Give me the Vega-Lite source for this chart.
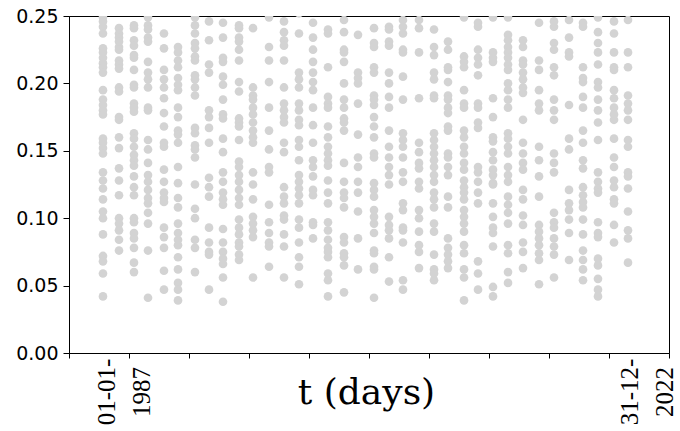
{
"$schema": "https://vega.github.io/schema/vega-lite/v6.json",
"autosize": {"type": "none"},
"padding": {"left": 69, "top": 16, "right": 11, "bottom": 78},
"width": 600,
"height": 337,
"background": "white",
"config": {"view": {"stroke": "black", "strokeWidth": 1}},
"title": {"text": "p\u00a0\u00a0(t) p", "font": "DejaVu Serif", "fontSize": 36, "fontWeight": "normal", "color": "black", "anchor": "start", "dx": 181, "baseline": "alphabetic", "offset": 18},
"layer": [
{
"data": {"values": [
{"t":-554,"p":0.249},{"t":-554,"p":0.246},{"t":-554,"p":0.242},{"t":-554,"p":0.237},{"t":-554,"p":0.226},{"t":-554,"p":0.223},{"t":-554,"p":0.219},{"t":-554,"p":0.215},{"t":-554,"p":0.212},{"t":-554,"p":0.208},{"t":-554,"p":0.195},{"t":-554,"p":0.188},{"t":-554,"p":0.184},{"t":-554,"p":0.180},{"t":-554,"p":0.177},{"t":-554,"p":0.159},{"t":-554,"p":0.156},{"t":-554,"p":0.152},{"t":-554,"p":0.148},{"t":-554,"p":0.134},{"t":-554,"p":0.128},{"t":-554,"p":0.122},{"t":-554,"p":0.114},{"t":-554,"p":0.105},{"t":-554,"p":0.100},{"t":-554,"p":0.088},{"t":-554,"p":0.072},{"t":-554,"p":0.068},{"t":-554,"p":0.059},{"t":-554,"p":0.042},
{"t":-151,"p":0.241},{"t":-151,"p":0.237},{"t":-151,"p":0.234},{"t":-151,"p":0.231},{"t":-151,"p":0.227},{"t":-151,"p":0.225},{"t":-151,"p":0.217},{"t":-151,"p":0.214},{"t":-151,"p":0.211},{"t":-151,"p":0.197},{"t":-151,"p":0.194},{"t":-151,"p":0.175},{"t":-151,"p":0.173},{"t":-151,"p":0.160},{"t":-151,"p":0.152},{"t":-151,"p":0.137},{"t":-151,"p":0.128},{"t":-151,"p":0.117},{"t":-151,"p":0.100},{"t":-151,"p":0.096},{"t":-151,"p":0.091},{"t":-151,"p":0.084},{"t":-151,"p":0.076},
{"t":226,"p":0.243},{"t":226,"p":0.241},{"t":226,"p":0.232},{"t":226,"p":0.228},{"t":226,"p":0.221},{"t":226,"p":0.219},{"t":226,"p":0.210},{"t":226,"p":0.199},{"t":226,"p":0.197},{"t":226,"p":0.185},{"t":226,"p":0.182},{"t":226,"p":0.179},{"t":226,"p":0.163},{"t":226,"p":0.159},{"t":226,"p":0.153},{"t":226,"p":0.147},{"t":226,"p":0.143},{"t":226,"p":0.139},{"t":226,"p":0.131},{"t":226,"p":0.123},{"t":226,"p":0.117},{"t":226,"p":0.100},{"t":226,"p":0.097},{"t":226,"p":0.089},{"t":226,"p":0.085},{"t":226,"p":0.078},{"t":226,"p":0.067},{"t":226,"p":0.060},
{"t":579,"p":0.249},{"t":579,"p":0.243},{"t":579,"p":0.240},{"t":579,"p":0.234},{"t":579,"p":0.231},{"t":579,"p":0.216},{"t":579,"p":0.208},{"t":579,"p":0.203},{"t":579,"p":0.197},{"t":579,"p":0.182},{"t":579,"p":0.180},{"t":579,"p":0.158},{"t":579,"p":0.151},{"t":579,"p":0.141},{"t":579,"p":0.132},{"t":579,"p":0.127},{"t":579,"p":0.121},{"t":579,"p":0.115},{"t":579,"p":0.111},{"t":579,"p":0.104},{"t":579,"p":0.096},{"t":579,"p":0.076},{"t":579,"p":0.041},
{"t":981,"p":0.237},{"t":981,"p":0.226},{"t":981,"p":0.210},{"t":981,"p":0.203},{"t":981,"p":0.197},{"t":981,"p":0.189},{"t":981,"p":0.178},{"t":981,"p":0.168},{"t":981,"p":0.156},{"t":981,"p":0.153},{"t":981,"p":0.136},{"t":981,"p":0.127},{"t":981,"p":0.119},{"t":981,"p":0.115},{"t":981,"p":0.112},{"t":981,"p":0.093},{"t":981,"p":0.086},{"t":981,"p":0.078},{"t":981,"p":0.061},{"t":981,"p":0.047},
{"t":1334,"p":0.227},{"t":1334,"p":0.223},{"t":1334,"p":0.217},{"t":1334,"p":0.212},{"t":1334,"p":0.204},{"t":1334,"p":0.199},{"t":1334,"p":0.195},{"t":1334,"p":0.182},{"t":1334,"p":0.175},{"t":1334,"p":0.165},{"t":1334,"p":0.162},{"t":1334,"p":0.156},{"t":1334,"p":0.138},{"t":1334,"p":0.126},{"t":1334,"p":0.115},{"t":1334,"p":0.108},{"t":1334,"p":0.096},{"t":1334,"p":0.089},{"t":1334,"p":0.084},{"t":1334,"p":0.080},{"t":1334,"p":0.071},{"t":1334,"p":0.062},{"t":1334,"p":0.052},{"t":1334,"p":0.047},{"t":1334,"p":0.039},
{"t":1761,"p":0.249},{"t":1761,"p":0.243},{"t":1761,"p":0.237},{"t":1761,"p":0.230},{"t":1761,"p":0.226},{"t":1761,"p":0.220},{"t":1761,"p":0.217},{"t":1761,"p":0.206},{"t":1761,"p":0.203},{"t":1761,"p":0.197},{"t":1761,"p":0.191},{"t":1761,"p":0.167},{"t":1761,"p":0.163},{"t":1761,"p":0.154},{"t":1761,"p":0.151},{"t":1761,"p":0.145},{"t":1761,"p":0.125},{"t":1761,"p":0.107},{"t":1761,"p":0.100},{"t":1761,"p":0.084},{"t":1761,"p":0.078},{"t":1761,"p":0.060},
{"t":2114,"p":0.246},{"t":2114,"p":0.232},{"t":2114,"p":0.214},{"t":2114,"p":0.208},{"t":2114,"p":0.180},{"t":2114,"p":0.175},{"t":2114,"p":0.167},{"t":2114,"p":0.156},{"t":2114,"p":0.130},{"t":2114,"p":0.123},{"t":2114,"p":0.116},{"t":2114,"p":0.093},{"t":2114,"p":0.082},{"t":2114,"p":0.075},{"t":2114,"p":0.073},{"t":2114,"p":0.047},
{"t":2466,"p":0.245},{"t":2466,"p":0.234},{"t":2466,"p":0.219},{"t":2466,"p":0.216},{"t":2466,"p":0.205},{"t":2466,"p":0.199},{"t":2466,"p":0.188},{"t":2466,"p":0.177},{"t":2466,"p":0.174},{"t":2466,"p":0.159},{"t":2466,"p":0.149},{"t":2466,"p":0.134},{"t":2466,"p":0.127},{"t":2466,"p":0.119},{"t":2466,"p":0.114},{"t":2466,"p":0.110},{"t":2466,"p":0.092},{"t":2466,"p":0.082},{"t":2466,"p":0.075},{"t":2466,"p":0.070},{"t":2466,"p":0.066},{"t":2466,"p":0.056},{"t":2466,"p":0.038},
{"t":2869,"p":0.243},{"t":2869,"p":0.241},{"t":2869,"p":0.234},{"t":2869,"p":0.231},{"t":2869,"p":0.225},{"t":2869,"p":0.217},{"t":2869,"p":0.201},{"t":2869,"p":0.194},{"t":2869,"p":0.174},{"t":2869,"p":0.171},{"t":2869,"p":0.168},{"t":2869,"p":0.158},{"t":2869,"p":0.142},{"t":2869,"p":0.138},{"t":2869,"p":0.132},{"t":2869,"p":0.127},{"t":2869,"p":0.121},{"t":2869,"p":0.115},{"t":2869,"p":0.110},{"t":2869,"p":0.099},{"t":2869,"p":0.093},{"t":2869,"p":0.088},{"t":2869,"p":0.082},{"t":2869,"p":0.079},{"t":2869,"p":0.073},{"t":2869,"p":0.069},
{"t":3221,"p":0.241},{"t":3221,"p":0.197},{"t":3221,"p":0.191},{"t":3221,"p":0.188},{"t":3221,"p":0.182},{"t":3221,"p":0.177},{"t":3221,"p":0.171},{"t":3221,"p":0.165},{"t":3221,"p":0.160},{"t":3221,"p":0.156},{"t":3221,"p":0.134},{"t":3221,"p":0.125},{"t":3221,"p":0.114},{"t":3221,"p":0.101},{"t":3221,"p":0.096},{"t":3221,"p":0.091},{"t":3221,"p":0.086},{"t":3221,"p":0.056},
{"t":3624,"p":0.249},{"t":3624,"p":0.227},{"t":3624,"p":0.217},{"t":3624,"p":0.201},{"t":3624,"p":0.182},{"t":3624,"p":0.165},{"t":3624,"p":0.151},{"t":3624,"p":0.138},{"t":3624,"p":0.134},{"t":3624,"p":0.110},{"t":3624,"p":0.097},{"t":3624,"p":0.089},{"t":3624,"p":0.082},{"t":3624,"p":0.079},{"t":3624,"p":0.064},
{"t":4001,"p":0.246},{"t":4001,"p":0.238},{"t":4001,"p":0.232},{"t":4001,"p":0.228},{"t":4001,"p":0.217},{"t":4001,"p":0.197},{"t":4001,"p":0.185},{"t":4001,"p":0.180},{"t":4001,"p":0.175},{"t":4001,"p":0.171},{"t":4001,"p":0.156},{"t":4001,"p":0.149},{"t":4001,"p":0.123},{"t":4001,"p":0.116},{"t":4001,"p":0.111},{"t":4001,"p":0.102},{"t":4001,"p":0.099},{"t":4001,"p":0.088},{"t":4001,"p":0.079},{"t":4001,"p":0.056},
{"t":4378,"p":0.252},{"t":4378,"p":0.237},{"t":4378,"p":0.208},{"t":4378,"p":0.203},{"t":4378,"p":0.197},{"t":4378,"p":0.185},{"t":4378,"p":0.180},{"t":4378,"p":0.173},{"t":4378,"p":0.169},{"t":4378,"p":0.158},{"t":4378,"p":0.153},{"t":4378,"p":0.143},{"t":4378,"p":0.132},{"t":4378,"p":0.127},{"t":4378,"p":0.122},{"t":4378,"p":0.117},{"t":4378,"p":0.111},{"t":4378,"p":0.099},{"t":4378,"p":0.093},{"t":4378,"p":0.082},{"t":4378,"p":0.071},{"t":4378,"p":0.064},{"t":4378,"p":0.051},
{"t":4731,"p":0.245},{"t":4731,"p":0.234},{"t":4731,"p":0.225},{"t":4731,"p":0.216},{"t":4731,"p":0.208},{"t":4731,"p":0.201},{"t":4731,"p":0.195},{"t":4731,"p":0.182},{"t":4731,"p":0.169},{"t":4731,"p":0.156},{"t":4731,"p":0.143},{"t":4731,"p":0.138},{"t":4731,"p":0.131},{"t":4731,"p":0.121},{"t":4731,"p":0.117},{"t":4731,"p":0.097},{"t":4731,"p":0.095},{"t":4731,"p":0.085},
{"t":5108,"p":0.240},{"t":5108,"p":0.237},{"t":5108,"p":0.212},{"t":5108,"p":0.190},{"t":5108,"p":0.185},{"t":5108,"p":0.182},{"t":5108,"p":0.168},{"t":5108,"p":0.160},{"t":5108,"p":0.153},{"t":5108,"p":0.148},{"t":5108,"p":0.143},{"t":5108,"p":0.139},{"t":5108,"p":0.128},{"t":5108,"p":0.119},{"t":5108,"p":0.111},{"t":5108,"p":0.097},{"t":5108,"p":0.091},{"t":5108,"p":0.084},{"t":5108,"p":0.078},{"t":5108,"p":0.075},{"t":5108,"p":0.071},{"t":5108,"p":0.059},{"t":5108,"p":0.054},{"t":5108,"p":0.042},
{"t":5511,"p":0.247},{"t":5511,"p":0.238},{"t":5511,"p":0.225},{"t":5511,"p":0.223},{"t":5511,"p":0.216},{"t":5511,"p":0.200},{"t":5511,"p":0.188},{"t":5511,"p":0.182},{"t":5511,"p":0.174},{"t":5511,"p":0.171},{"t":5511,"p":0.165},{"t":5511,"p":0.141},{"t":5511,"p":0.127},{"t":5511,"p":0.119},{"t":5511,"p":0.115},{"t":5511,"p":0.108},{"t":5511,"p":0.086},{"t":5511,"p":0.082},{"t":5511,"p":0.074},{"t":5511,"p":0.071},{"t":5511,"p":0.065},{"t":5511,"p":0.045},
{"t":5863,"p":0.236},{"t":5863,"p":0.208},{"t":5863,"p":0.204},{"t":5863,"p":0.200},{"t":5863,"p":0.185},{"t":5863,"p":0.162},{"t":5863,"p":0.145},{"t":5863,"p":0.138},{"t":5863,"p":0.127},{"t":5863,"p":0.119},{"t":5863,"p":0.105},{"t":5863,"p":0.085},{"t":5863,"p":0.062},
{"t":6266,"p":0.241},{"t":6266,"p":0.230},{"t":6266,"p":0.227},{"t":6266,"p":0.212},{"t":6266,"p":0.208},{"t":6266,"p":0.191},{"t":6266,"p":0.188},{"t":6266,"p":0.184},{"t":6266,"p":0.175},{"t":6266,"p":0.168},{"t":6266,"p":0.160},{"t":6266,"p":0.148},{"t":6266,"p":0.145},{"t":6266,"p":0.126},{"t":6266,"p":0.121},{"t":6266,"p":0.116},{"t":6266,"p":0.106},{"t":6266,"p":0.101},{"t":6266,"p":0.096},{"t":6266,"p":0.089},{"t":6266,"p":0.076},{"t":6266,"p":0.074},{"t":6266,"p":0.064},{"t":6266,"p":0.062},{"t":6266,"p":0.041},
{"t":6643,"p":0.242},{"t":6643,"p":0.240},{"t":6643,"p":0.231},{"t":6643,"p":0.228},{"t":6643,"p":0.208},{"t":6643,"p":0.200},{"t":6643,"p":0.190},{"t":6643,"p":0.182},{"t":6643,"p":0.165},{"t":6643,"p":0.153},{"t":6643,"p":0.145},{"t":6643,"p":0.138},{"t":6643,"p":0.132},{"t":6643,"p":0.125},{"t":6643,"p":0.101},{"t":6643,"p":0.095},{"t":6643,"p":0.091},{"t":6643,"p":0.085},{"t":6643,"p":0.071},{"t":6643,"p":0.053},
{"t":6995,"p":0.247},{"t":6995,"p":0.242},{"t":6995,"p":0.237},{"t":6995,"p":0.225},{"t":6995,"p":0.223},{"t":6995,"p":0.205},{"t":6995,"p":0.188},{"t":6995,"p":0.163},{"t":6995,"p":0.158},{"t":6995,"p":0.153},{"t":6995,"p":0.145},{"t":6995,"p":0.134},{"t":6995,"p":0.127},{"t":6995,"p":0.111},{"t":6995,"p":0.106},{"t":6995,"p":0.093},{"t":6995,"p":0.091},{"t":6995,"p":0.082},{"t":6995,"p":0.054},{"t":6995,"p":0.047},
{"t":7398,"p":0.247},{"t":7398,"p":0.241},{"t":7398,"p":0.223},{"t":7398,"p":0.189},{"t":7398,"p":0.156},{"t":7398,"p":0.149},{"t":7398,"p":0.141},{"t":7398,"p":0.137},{"t":7398,"p":0.127},{"t":7398,"p":0.122},{"t":7398,"p":0.106},{"t":7398,"p":0.100},{"t":7398,"p":0.090},{"t":7398,"p":0.080},{"t":7398,"p":0.075},{"t":7398,"p":0.063},
{"t":7776,"p":0.240},{"t":7776,"p":0.227},{"t":7776,"p":0.221},{"t":7776,"p":0.208},{"t":7776,"p":0.203},{"t":7776,"p":0.191},{"t":7776,"p":0.189},{"t":7776,"p":0.163},{"t":7776,"p":0.158},{"t":7776,"p":0.153},{"t":7776,"p":0.148},{"t":7776,"p":0.143},{"t":7776,"p":0.138},{"t":7776,"p":0.132},{"t":7776,"p":0.127},{"t":7776,"p":0.119},{"t":7776,"p":0.114},{"t":7776,"p":0.108},{"t":7776,"p":0.096},{"t":7776,"p":0.090},{"t":7776,"p":0.073},{"t":7776,"p":0.062},{"t":7776,"p":0.059},{"t":7776,"p":0.054},
{"t":8128,"p":0.231},{"t":8128,"p":0.225},{"t":8128,"p":0.212},{"t":8128,"p":0.210},{"t":8128,"p":0.201},{"t":8128,"p":0.191},{"t":8128,"p":0.188},{"t":8128,"p":0.182},{"t":8128,"p":0.178},{"t":8128,"p":0.168},{"t":8128,"p":0.165},{"t":8128,"p":0.148},{"t":8128,"p":0.145},{"t":8128,"p":0.138},{"t":8128,"p":0.132},{"t":8128,"p":0.116},{"t":8128,"p":0.108},{"t":8128,"p":0.085},{"t":8128,"p":0.078},{"t":8128,"p":0.073},{"t":8128,"p":0.068},{"t":8128,"p":0.063},
{"t":8531,"p":0.249},{"t":8531,"p":0.220},{"t":8531,"p":0.216},{"t":8531,"p":0.212},{"t":8531,"p":0.195},{"t":8531,"p":0.185},{"t":8531,"p":0.182},{"t":8531,"p":0.165},{"t":8531,"p":0.160},{"t":8531,"p":0.153},{"t":8531,"p":0.148},{"t":8531,"p":0.141},{"t":8531,"p":0.136},{"t":8531,"p":0.128},{"t":8531,"p":0.123},{"t":8531,"p":0.119},{"t":8531,"p":0.114},{"t":8531,"p":0.106},{"t":8531,"p":0.101},{"t":8531,"p":0.096},{"t":8531,"p":0.090},{"t":8531,"p":0.080},{"t":8531,"p":0.074},{"t":8531,"p":0.062},{"t":8531,"p":0.056},{"t":8531,"p":0.039},
{"t":8883,"p":0.245},{"t":8883,"p":0.242},{"t":8883,"p":0.225},{"t":8883,"p":0.219},{"t":8883,"p":0.214},{"t":8883,"p":0.206},{"t":8883,"p":0.185},{"t":8883,"p":0.182},{"t":8883,"p":0.171},{"t":8883,"p":0.167},{"t":8883,"p":0.138},{"t":8883,"p":0.134},{"t":8883,"p":0.127},{"t":8883,"p":0.119},{"t":8883,"p":0.111},{"t":8883,"p":0.068},{"t":8883,"p":0.059},{"t":8883,"p":0.047},
{"t":9260,"p":0.249},{"t":9260,"p":0.223},{"t":9260,"p":0.219},{"t":9260,"p":0.216},{"t":9260,"p":0.189},{"t":9260,"p":0.175},{"t":9260,"p":0.160},{"t":9260,"p":0.157},{"t":9260,"p":0.149},{"t":9260,"p":0.143},{"t":9260,"p":0.136},{"t":9260,"p":0.132},{"t":9260,"p":0.126},{"t":9260,"p":0.125},{"t":9260,"p":0.111},{"t":9260,"p":0.101},{"t":9260,"p":0.093},{"t":9260,"p":0.089},{"t":9260,"p":0.079},{"t":9260,"p":0.049},{"t":9260,"p":0.042},
{"t":9638,"p":0.249},{"t":9638,"p":0.236},{"t":9638,"p":0.232},{"t":9638,"p":0.227},{"t":9638,"p":0.223},{"t":9638,"p":0.219},{"t":9638,"p":0.214},{"t":9638,"p":0.210},{"t":9638,"p":0.200},{"t":9638,"p":0.195},{"t":9638,"p":0.188},{"t":9638,"p":0.182},{"t":9638,"p":0.163},{"t":9638,"p":0.159},{"t":9638,"p":0.153},{"t":9638,"p":0.148},{"t":9638,"p":0.138},{"t":9638,"p":0.132},{"t":9638,"p":0.127},{"t":9638,"p":0.116},{"t":9638,"p":0.110},{"t":9638,"p":0.104},{"t":9638,"p":0.096},{"t":9638,"p":0.080},{"t":9638,"p":0.074},{"t":9638,"p":0.060},{"t":9638,"p":0.052},
{"t":10015,"p":0.232},{"t":10015,"p":0.227},{"t":10015,"p":0.217},{"t":10015,"p":0.214},{"t":10015,"p":0.208},{"t":10015,"p":0.203},{"t":10015,"p":0.197},{"t":10015,"p":0.193},{"t":10015,"p":0.173},{"t":10015,"p":0.156},{"t":10015,"p":0.148},{"t":10015,"p":0.141},{"t":10015,"p":0.136},{"t":10015,"p":0.121},{"t":10015,"p":0.114},{"t":10015,"p":0.102},{"t":10015,"p":0.095},{"t":10015,"p":0.082},{"t":10015,"p":0.075},{"t":10015,"p":0.063},
{"t":10418,"p":0.245},{"t":10418,"p":0.217},{"t":10418,"p":0.210},{"t":10418,"p":0.195},{"t":10418,"p":0.185},{"t":10418,"p":0.180},{"t":10418,"p":0.153},{"t":10418,"p":0.143},{"t":10418,"p":0.131},{"t":10418,"p":0.116},{"t":10418,"p":0.095},{"t":10418,"p":0.090},{"t":10418,"p":0.085},{"t":10418,"p":0.080},{"t":10418,"p":0.074},{"t":10418,"p":0.069},{"t":10418,"p":0.051},
{"t":10795,"p":0.246},{"t":10795,"p":0.242},{"t":10795,"p":0.230},{"t":10795,"p":0.225},{"t":10795,"p":0.212},{"t":10795,"p":0.206},{"t":10795,"p":0.188},{"t":10795,"p":0.180},{"t":10795,"p":0.173},{"t":10795,"p":0.148},{"t":10795,"p":0.141},{"t":10795,"p":0.134},{"t":10795,"p":0.104},{"t":10795,"p":0.097},{"t":10795,"p":0.093},{"t":10795,"p":0.085},{"t":10795,"p":0.079},{"t":10795,"p":0.073},{"t":10795,"p":0.056},
{"t":11173,"p":0.247},{"t":11173,"p":0.234},{"t":11173,"p":0.223},{"t":11173,"p":0.220},{"t":11173,"p":0.184},{"t":11173,"p":0.159},{"t":11173,"p":0.151},{"t":11173,"p":0.121},{"t":11173,"p":0.111},{"t":11173,"p":0.106},{"t":11173,"p":0.099},{"t":11173,"p":0.089},{"t":11173,"p":0.069},
{"t":11525,"p":0.245},{"t":11525,"p":0.242},{"t":11525,"p":0.212},{"t":11525,"p":0.204},{"t":11525,"p":0.201},{"t":11525,"p":0.190},{"t":11525,"p":0.182},{"t":11525,"p":0.165},{"t":11525,"p":0.156},{"t":11525,"p":0.143},{"t":11525,"p":0.137},{"t":11525,"p":0.123},{"t":11525,"p":0.117},{"t":11525,"p":0.112},{"t":11525,"p":0.108},{"t":11525,"p":0.099},{"t":11525,"p":0.088},{"t":11525,"p":0.076},{"t":11525,"p":0.069},{"t":11525,"p":0.062},{"t":11525,"p":0.054},
{"t":11902,"p":0.249},{"t":11902,"p":0.238},{"t":11902,"p":0.230},{"t":11902,"p":0.223},{"t":11902,"p":0.214},{"t":11902,"p":0.201},{"t":11902,"p":0.197},{"t":11902,"p":0.188},{"t":11902,"p":0.180},{"t":11902,"p":0.171},{"t":11902,"p":0.158},{"t":11902,"p":0.134},{"t":11902,"p":0.127},{"t":11902,"p":0.122},{"t":11902,"p":0.119},{"t":11902,"p":0.097},{"t":11902,"p":0.089},{"t":11902,"p":0.086},{"t":11902,"p":0.070},{"t":11902,"p":0.065},{"t":11902,"p":0.055},{"t":11902,"p":0.047},{"t":11902,"p":0.042},
{"t":12305,"p":0.246},{"t":12305,"p":0.237},{"t":12305,"p":0.223},{"t":12305,"p":0.212},{"t":12305,"p":0.210},{"t":12305,"p":0.195},{"t":12305,"p":0.189},{"t":12305,"p":0.182},{"t":12305,"p":0.177},{"t":12305,"p":0.173},{"t":12305,"p":0.159},{"t":12305,"p":0.145},{"t":12305,"p":0.138},{"t":12305,"p":0.128},{"t":12305,"p":0.123},{"t":12305,"p":0.114},{"t":12305,"p":0.111},{"t":12305,"p":0.095},{"t":12305,"p":0.082},
{"t":12657,"p":0.247},{"t":12657,"p":0.223},{"t":12657,"p":0.212},{"t":12657,"p":0.191},{"t":12657,"p":0.185},{"t":12657,"p":0.180},{"t":12657,"p":0.173},{"t":12657,"p":0.158},{"t":12657,"p":0.153},{"t":12657,"p":0.134},{"t":12657,"p":0.131},{"t":12657,"p":0.122},{"t":12657,"p":0.105},{"t":12657,"p":0.091},{"t":12657,"p":0.085},{"t":12657,"p":0.067}
]},
"mark": {"type": "circle", "size": 75, "color": "#d3d3d3", "opacity": 1, "clip": true},
"encoding": {
"x": {"field": "t", "type": "quantitative",
"scale": {"domain": [-1409, 13689], "nice": false, "zero": false},
"axis": {"values": [-1409, 101, 1611, 3120, 4630, 6140, 7650, 9160, 10669, 12179, 13689], "labels": false, "grid": false, "tickSize": 5, "tickColor": "black", "domainColor": "black", "title": "t (days)", "titleFont": "DejaVu Serif", "titleFontSize": 36, "titleFontWeight": "normal", "titleColor": "black", "titleX": 297, "titleY": 50, "titleAlign": "center", "titleBaseline": "alphabetic"}},
"y": {"field": "p", "type": "quantitative",
"scale": {"domain": [0, 0.25], "nice": false, "zero": true},
"axis": {"values": [0, 0.05, 0.1, 0.15, 0.2, 0.25], "format": ".2f", "grid": false, "tickSize": 6, "tickColor": "black", "domainColor": "black", "labelFont": "DejaVu Sans", "labelFontSize": 19, "labelColor": "black", "labelPadding": 5, "title": null}}
}
},
{
"data": {"values": [
{"t": 0, "label": "01-01-\n1987"},
{"t": 13148, "label": "31-12-\n2022"}
]},
"mark": {"type": "text", "angle": 270, "align": "center", "baseline": "middle", "lineBreak": "\n", "lineHeight": 35, "font": "Liberation Serif", "fontSize": 25, "color": "black", "dx": -39, "dy": -18},
"encoding": {
"x": {"field": "t", "type": "quantitative"},
"y": {"datum": 0, "type": "quantitative"},
"text": {"field": "label"}
}
}
]
}
